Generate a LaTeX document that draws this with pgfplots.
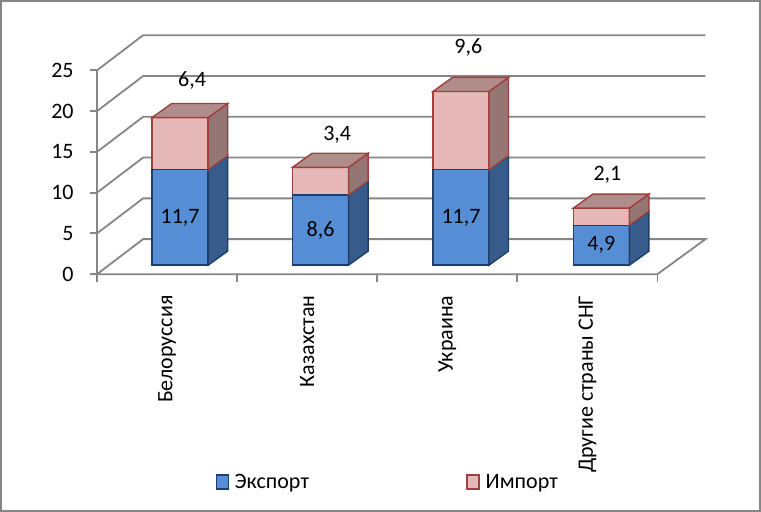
\documentclass[border=0pt]{standalone}
\usepackage{pgfplots}
\pgfplotsset{compat=1.18}
\usepackage{pgfplotstable}
\usepackage{fontspec}
\setmainfont{Carlito}
\definecolor{gridc}{HTML}{868686}
\definecolor{expfront}{HTML}{558ED5}
\definecolor{expside}{HTML}{375B8A}
\definecolor{expborder}{HTML}{1F3F6B}
\definecolor{impfront}{HTML}{E6B9B8}
\definecolor{impside}{HTML}{947675}
\definecolor{imptop}{HTML}{B08C8B}
\definecolor{impborder}{HTML}{A0403E}
% pixel (x from left, y from top) -> axis coordinates (y in bar-plane value units)
\newcommand\pp[2]{(axis cs:#1,{(265-(#2))/8.15})}
\pgfplotstableread{
i exp imp
0 11.7 6.4
1 8.6 3.4
2 11.7 9.6
3 4.9 2.1
}\data
\tikzset{
  gridl/.style={draw=gridc, line width=0.9pt},
  expsideS/.style={fill=expside, draw=expborder, line width=0.7pt},
  impsideS/.style={fill=impside, draw=impborder, line width=0.7pt},
  imptopS/.style={fill=imptop, draw=impborder, line width=0.7pt},
}
\begin{document}
\begin{tikzpicture}[font=\fontsize{11}{13}\selectfont]
\begin{axis}[
  scale only axis, width=380.5pt, height=256pt,
  xmin=0, xmax=761, ymin=-30.307, ymax=32.515,
  hide axis, clip=false,
]
% outer border
\draw[draw=gridc, line width=1pt] \pp{1}{1} rectangle \pp{759.5}{510.5};
% floor
\draw[gridl] \pp{97}{274} -- \pp{143}{239} -- \pp{705}{239} -- \pp{657}{274} -- cycle;
% grid lines on side and back walls
\pgfplotsinvokeforeach{5,10,15,20,25}{
  \draw[gridl] \pp{97}{274-8.15*#1} -- \pp{143}{239-8.15*#1} -- \pp{705}{239-8.15*#1};
  \draw[gridl] \pp{90}{274-8.15*#1} -- \pp{97}{274-8.15*#1};
  \node[anchor=east, inner sep=0pt] at \pp{74}{274-8.15*#1} {#1};
}
\draw[gridl] \pp{97}{274} -- \pp{97}{274-8.15*25};
\draw[gridl] \pp{90}{274} -- \pp{97}{274};
\node[anchor=east, inner sep=0pt] at \pp{74}{274} {0};
% category ticks
\pgfplotsinvokeforeach{97,237,377,517,657}{
  \draw[gridl] \pp{#1}{274} -- \pp{#1}{282};
}
% bars (front faces)
\addplot[ybar, bar width=56, bar shift=0pt, fill=impfront, draw=impborder, line width=0.7pt, forget plot]
  table[x expr={180+140.33*\thisrow{i}}, y expr={\thisrow{exp}+\thisrow{imp}}]{\data};
\addplot[ybar, bar width=56, bar shift=0pt, fill=expfront, draw=expborder, line width=0.7pt, forget plot]
  table[x expr={180+140.33*\thisrow{i}}, y=exp]{\data};
% 3D side and top faces
\pgfplotsforeachungrouped \i in {0,...,3}{
  \pgfplotstablegetelem{\i}{exp}\of\data \let\ve\pgfplotsretval
  \pgfplotstablegetelem{\i}{imp}\of\data \let\vi\pgfplotsretval
  \pgfmathsetmacro\xc{180+140.33*\i}
  \pgfmathsetmacro\xl{\xc-28}
  \pgfmathsetmacro\xr{\xc+28}
  \pgfmathsetmacro\xrb{\xr+19.5}
  \pgfmathsetmacro\xlb{\xl+19.5}
  \pgfmathsetmacro\yt{\ve+\vi}
  \def\dd{1.718}
  \pgfmathsetmacro\veb{\ve+\dd}
  \pgfmathsetmacro\ytb{\yt+\dd}
  \edef\tmp{%
    \noexpand\addplot[expsideS, forget plot] coordinates {(\xr,0) (\xrb,\dd) (\xrb,\veb) (\xr,\ve)} -- cycle;
    \noexpand\addplot[impsideS, forget plot] coordinates {(\xr,\ve) (\xrb,\veb) (\xrb,\ytb) (\xr,\yt)} -- cycle;
    \noexpand\addplot[imptopS, forget plot] coordinates {(\xl,\yt) (\xlb,\ytb) (\xrb,\ytb) (\xr,\yt)} -- cycle;
  }\tmp
}
% data labels
\node at (axis cs:180,5.85) {11,7};
\node at (axis cs:320.3,4.3) {8,6};
\node at (axis cs:460.7,5.85) {11,7};
\node at (axis cs:601,2.45) {4,9};
\node at \pp{192}{80} {6,4};
\node at \pp{337}{135} {3,4};
\node at \pp{468}{47} {9,6};
\node at \pp{607}{175} {2,1};
% category labels
\node[rotate=90, anchor=east, inner sep=0pt] at \pp{167}{295} {Белоруссия};
\node[rotate=90, anchor=east, inner sep=0pt] at \pp{307}{295} {Казахстан};
\node[rotate=90, anchor=east, inner sep=0pt] at \pp{447}{295} {Украина};
\node[rotate=90, anchor=east, inner sep=0pt] at \pp{587}{295} {Другие страны СНГ};
% legend
\draw[draw=expborder, fill=expfront, line width=0.8pt] \pp{216.5}{474.5} rectangle \pp{228.5}{488.5};
\node[anchor=base west, inner sep=0pt] at \pp{234}{488} {Экспорт};
\draw[draw=impborder, fill=impfront, line width=0.8pt] \pp{466.5}{474.5} rectangle \pp{478.5}{488.5};
\node[anchor=base west, inner sep=0pt] at \pp{485}{488} {Импорт};
\end{axis}
\end{tikzpicture}
\end{document}
